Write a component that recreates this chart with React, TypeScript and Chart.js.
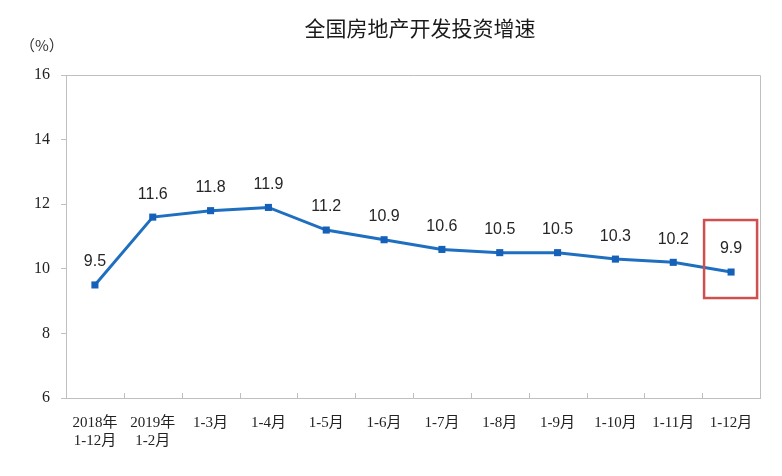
import React, { useEffect, useRef } from "react";
import { Chart, registerables } from "chart.js";

Chart.register(...registerables);

const categories: (string | string[])[] = [
  ["2018年", "1-12月"],
  ["2019年", "1-2月"],
  "1-3月",
  "1-4月",
  "1-5月",
  "1-6月",
  "1-7月",
  "1-8月",
  "1-9月",
  "1-10月",
  "1-11月",
  "1-12月",
];
const growth: number[] = [9.5, 11.6, 11.8, 11.9, 11.2, 10.9, 10.6, 10.5, 10.5, 10.3, 10.2, 9.9];
const yTicks: number[] = [6, 8, 10, 12, 14, 16];
const titleText = "全国房地产开发投资增速";
const unitText = "（%）";

const AXIS_GREY = "#bfbfbf";
const SERIF = '"Liberation Serif", "Noto Sans CJK SC", serif';

const decorPlugin = {
  id: "decor",
  afterDatasetsDraw(chart: any) {
    const ctx = chart.ctx;
    const area = chart.chartArea;
    const xs = chart.scales.x;
    ctx.save();
    // top and right frame lines
    ctx.strokeStyle = AXIS_GREY;
    ctx.lineWidth = 1;
    ctx.beginPath();
    ctx.moveTo(area.left, area.top + 0.5);
    ctx.lineTo(area.right + 0.5, area.top + 0.5);
    ctx.lineTo(area.right + 0.5, area.bottom);
    ctx.stroke();
    // inward x tick marks at category boundaries
    const n = categories.length;
    const step = (xs.right - xs.left) / n;
    ctx.beginPath();
    for (let i = 1; i < n; i++) {
      const x = Math.round(xs.left + i * step) + 0.5;
      ctx.moveTo(x, area.bottom);
      ctx.lineTo(x, area.bottom - 5);
    }
    ctx.stroke();

    // data labels
    const meta = chart.getDatasetMeta(0);
    ctx.fillStyle = "#262626";
    ctx.font = '16px "Liberation Sans", Arial, sans-serif';
    ctx.textAlign = "center";
    ctx.textBaseline = "middle";
    meta.data.forEach((pt: any, i: number) => {
      ctx.fillText(growth[i].toFixed(1), pt.x, pt.y - 23);
    });

    // red highlight box around last point
    const last = meta.data[meta.data.length - 1];
    ctx.strokeStyle = "#d0504f";
    ctx.lineWidth = 2.5;
    ctx.strokeRect(last.x - 27, last.y - 52, 53, 78);

    // title and unit
    ctx.fillStyle = "#1a1a1a";
    ctx.font = '21px "Noto Sans CJK SC", sans-serif';
    ctx.textAlign = "center";
    ctx.fillText(titleText, 420, 28);
    ctx.fillStyle = "#333";
    ctx.font = '15px "Noto Sans CJK SC", sans-serif';
    ctx.textAlign = "left";
    ctx.fillText(unitText, 20, 45);
    ctx.restore();
  },
};

export default function App() {
  const ref = useRef<HTMLCanvasElement>(null);
  useEffect(() => {
    if (!ref.current) return;
    const chart = new Chart(ref.current, {
      type: "line",
      data: {
        labels: categories,
        datasets: [
          {
            data: growth,
            borderColor: "#1f6fc0",
            backgroundColor: "#1560b8",
            borderWidth: 3,
            pointStyle: "rect",
            pointRadius: 5,
            pointBorderWidth: 0,
            pointBackgroundColor: "#1560b8",
            tension: 0,
          },
        ],
      },
      plugins: [decorPlugin],
      options: {
        responsive: false,
        animation: false,
        layout: { padding: { top: 75, right: 22, left: 0, bottom: 0 } },
        plugins: {
          legend: { display: false },
          tooltip: { enabled: false },
        },
        scales: {
          x: {
            type: "category",
            offset: true,
            grid: { display: false, drawTicks: false },
            border: { display: true, color: AXIS_GREY, width: 1 },
            ticks: {
              color: "#222",
              font: { family: SERIF, size: 15 },
              padding: 16,
              maxRotation: 0,
              autoSkip: false,
            },
            afterFit(scale: any) {
              scale.height = 78;
            },
          },
          y: {
            min: 6,
            max: 16,
            afterBuildTicks(scale: any) {
              scale.ticks = yTicks.map((v) => ({ value: v }));
            },
            grid: { drawOnChartArea: false, drawTicks: true, tickLength: 5, color: AXIS_GREY },
            border: { display: true, color: AXIS_GREY, width: 1 },
            ticks: {
              color: "#222",
              font: { family: SERIF, size: 16 },
              padding: 11,
            },
            afterFit(scale: any) {
              scale.width = 66;
            },
          },
        },
      },
    });
    return () => chart.destroy();
  }, []);
  return (
    <div style={{ position: "fixed", left: 0, top: 0, width: 782, height: 476, background: "#fff" }}>
      <canvas ref={ref} width={782} height={476} style={{ display: "block" }} />
    </div>
  );
}
